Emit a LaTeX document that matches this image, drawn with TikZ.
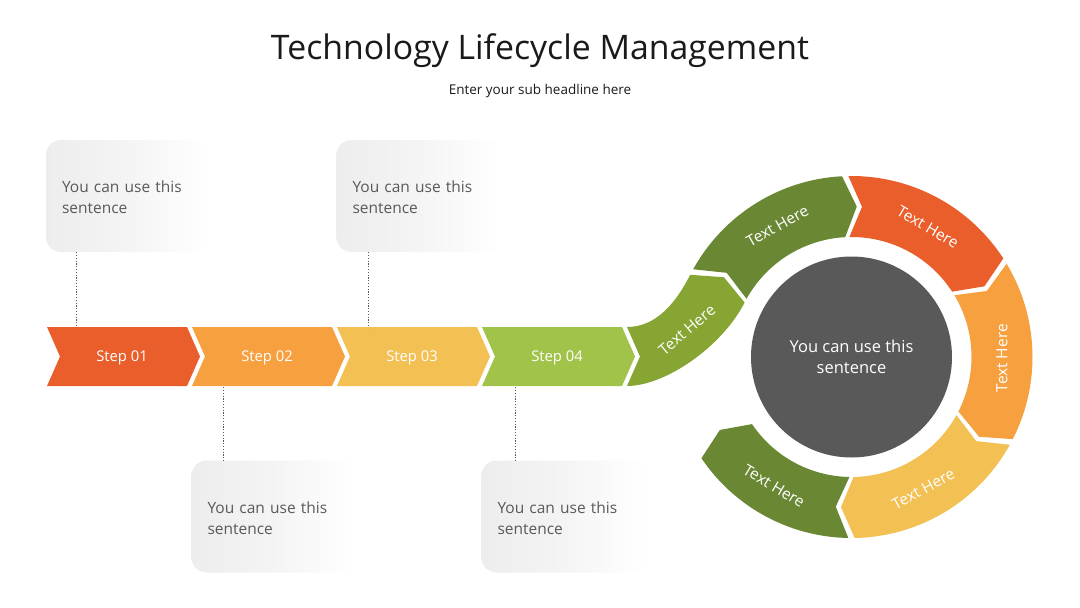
\documentclass[tikz,border=0pt]{standalone}
\usepackage{fontspec}
\setmainfont{Open Sans}
\definecolor{cRed}{HTML}{E95E2B}
\definecolor{cOrange}{HTML}{F6A03F}
\definecolor{cYellow}{HTML}{F2C053}
\definecolor{cLight}{HTML}{A1C34A}
\definecolor{cMid}{HTML}{86A532}
\definecolor{cDark}{HTML}{6A8834}
\definecolor{cHub}{HTML}{595959}
\definecolor{cText}{HTML}{595959}
\definecolor{cTitle}{HTML}{1A1A1A}
\definecolor{cBox}{HTML}{EDEDED}
\newcommand\ringseg[3]{%
  \fill[#3] (#1:181) arc[start angle=#1, end angle=#2, radius=181] -- (#2-5:150.5) -- (#2:120)
    arc[start angle=#2, end angle=#1, radius=120] -- (#1-5:150.5) -- cycle;}
\tikzset{
  infobox/.style={rounded corners=15pt, left color=cBox, right color=white, middle color=cBox!60,
    text width=132pt, inner xsep=16pt, minimum height=112pt, align=left, text=cText,
    font=\fontsize{15.5}{21}\selectfont},
  steplabel/.style={minimum width=140pt, minimum height=59pt, inner sep=0pt, text=white,
    font=\fontsize{14.8}{17}\selectfont},
  seglabel/.style={text=white, inner sep=0pt, font=\fontsize{15.5}{18}\selectfont},
  conn/.style={draw=cText, line width=0.8pt, dash pattern=on 1.2pt off 1.6pt}
}
\begin{document}
\begin{tikzpicture}[x=1pt,y=1pt]
\useasboundingbox (0,0) rectangle (1080,-608);
\fill[white] (0,0) rectangle (1080,-608);
% titles
\node[anchor=base, text=cTitle, font=\fontsize{33.8}{40}\selectfont] (title) at (540,-59.5) {Technology Lifecycle Management};
\node[anchor=base, text=cTitle, font=\fontsize{13.5}{16}\selectfont] (sub) at (540,-94) {Enter your sub headline here};
% info boxes
\node[infobox] (b1) at (128,-196) {\strut You can use this sentence};
\node[infobox] (b2) at (418.5,-196) {\strut You can use this sentence};
\node[infobox] (b3) at (273.5,-516.5) {\strut You can use this sentence};
\node[infobox] (b4) at (563.5,-516.5) {\strut You can use this sentence};
% steps
\foreach \L/\c/\t/\n in {47/cRed/Step 01/s1, 192/cOrange/Step 02/s2, 337/cYellow/Step 03/s3, 482/cLight/Step 04/s4}{
  \fill[\c] (\L,-327) -- ++(140,0) -- ++(13,-29.5) -- ++(-13,-29.5) -- ++(-140,0) -- ++(13,29.5) -- cycle;
  \node[steplabel] (\n) at (\L+75,-357.5) {\t};
}
% connectors
\coordinate (x1) at (76,0);
\coordinate (x2) at (368,0);
\coordinate (x3) at (223,0);
\coordinate (x4) at (515,0);
\draw[conn] (b1.south -| x1) -- (s1.north -| x1);
\draw[conn] (b2.south -| x2) -- (s2.north -| x2);
\draw[conn] (s2.south -| x3) -- (b3.north -| x3);
\draw[conn] (s4.south -| x4) -- (b4.north -| x4);
% S piece
\fill[cMid] (627,-327) .. controls (657,-327) and (676.6,-301.5) .. (690.2,-274.8)
  -- (723.9,-277.25) -- (744.6,-302.5) .. controls (721.9,-347.05) and (665,-386) .. (627,-386)
  -- (640,-356.5) -- cycle;
\node[seglabel, rotate=40] (t0) at (687,-330) {Text Here};
% ring
\begin{scope}[shift={(851.5,-357)}]
  \ringseg{151}{93}{cDark}
  \ringseg{91}{33}{cRed}
  \ringseg{31}{-27}{cOrange}
  \ringseg{-29}{-89}{cYellow}
  \ringseg{-91}{-146}{cDark}
  \node[seglabel, rotate=29.5] (t1) at (119.5:150.5) {Text Here};
  \node[seglabel, rotate=-30.5] (t2) at (59.5:150.5) {Text Here};
  \node[seglabel, rotate=90] (t3) at (-0.5:150.5) {Text Here};
  \node[seglabel, rotate=28.5] (t4) at (-61.5:150.5) {Text Here};
  \node[seglabel, rotate=-31] (t5) at (-121:150.5) {Text Here};
  \node[circle, fill=cHub, minimum size=201pt, inner sep=0pt, text=white, align=center,
    font=\fontsize{16.5}{21}\selectfont] (hub) at (0,0) {You can use this\\sentence};
\end{scope}
\end{tikzpicture}
\end{document}
